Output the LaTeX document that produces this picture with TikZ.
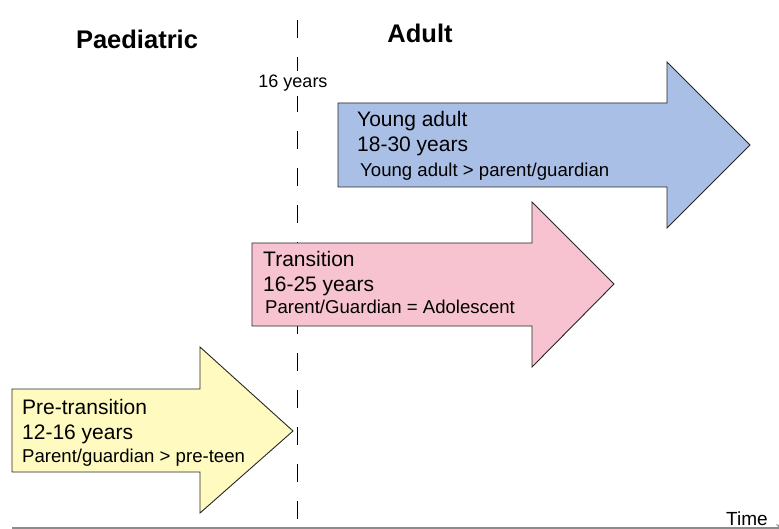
\documentclass[tikz,border=0pt]{standalone}
\usepackage{fontspec}
\setmainfont{Liberation Sans}
\usepackage{xcolor}
\usetikzlibrary{arrows.meta}
\definecolor{preYellow}{HTML}{FFFAC0}
\definecolor{transPink}{HTML}{F8C3D1}
\definecolor{adultBlue}{HTML}{AABFE5}
\definecolor{axisGrey}{HTML}{8C8C8C}
\definecolor{edgeDark}{HTML}{262626}

\begin{document}
\begin{tikzpicture}[x=1pt,y=-1pt]
    \tikzset{phase/.style={draw=edgeDark,line width=0.9pt,line join=miter}, big/.style={anchor=base west,inner sep=0pt,font=\fontsize{21}{25}\selectfont}, small/.style={anchor=base west,inner sep=0pt,font=\fontsize{18.6}{22}\selectfont}, head/.style={anchor=base,inner sep=0pt,font=\fontsize{25.5}{30}\selectfont\bfseries}}
    \useasboundingbox (0,0) rectangle (779,529);
    % time axis and 16 years boundary
    \coordinate (t0) at (12,528); \coordinate (t1) at (786,528);
    \draw[axisGrey,line width=1.4pt,-{Stealth[length=10pt,width=8pt]}] (t0)--(t1);
    \node[anchor=base west,inner sep=0pt,font=\fontsize{19}{22}\selectfont] (time) at (726,525) {Time};
    \coordinate (b0) at (297,20); \coordinate (b1) at (297,519);
    \draw[black,line width=0.9pt,dash pattern=on 18pt off 19pt] (b0)--(b1);
    \node[anchor=base,fill=white,inner xsep=1pt,inner ysep=4pt,font=\fontsize{18}{21}\selectfont] (sixteen) at (293,88) {16 years};
    \node[head] (paed) at (137,49) {Paediatric};
    \node[head] (adult) at (420,43) {Adult};
    % phase arrows
    \draw[phase,fill=preYellow] (12,389)--(200,389)--(200,347)--(293,431)--(200,513)--(200,472)--(12,472)--cycle;
    \draw[phase,fill=transPink] (252,243)--(532,243)--(532,202)--(614,284)--(532,367)--(532,326)--(252,326)--cycle;
    \draw[phase,fill=adultBlue] (338,103)--(667,103)--(667,62)--(750,145)--(667,228)--(667,187)--(338,187)--cycle;
    \node[big] (preName) at (22,414) {Pre-transition};
    \node[big] (preAge) at (22,439) {12-16 years};
    \node[small] (preRole) at (22,462) {Parent/guardian > pre-teen};
    \node[big] (transName) at (263,267) {Transition};
    \node[big] (transAge) at (263,292) {16-25 years};
    \node[small] (transRole) at (265,314) {Parent/Guardian = Adolescent};
    \node[big] (adultName) at (357,127) {Young adult};
    \node[big] (adultAge) at (357,152) {18-30 years};
    \node[small] (adultRole) at (360,177) {Young adult > parent/guardian};
\end{tikzpicture}
\end{document}
